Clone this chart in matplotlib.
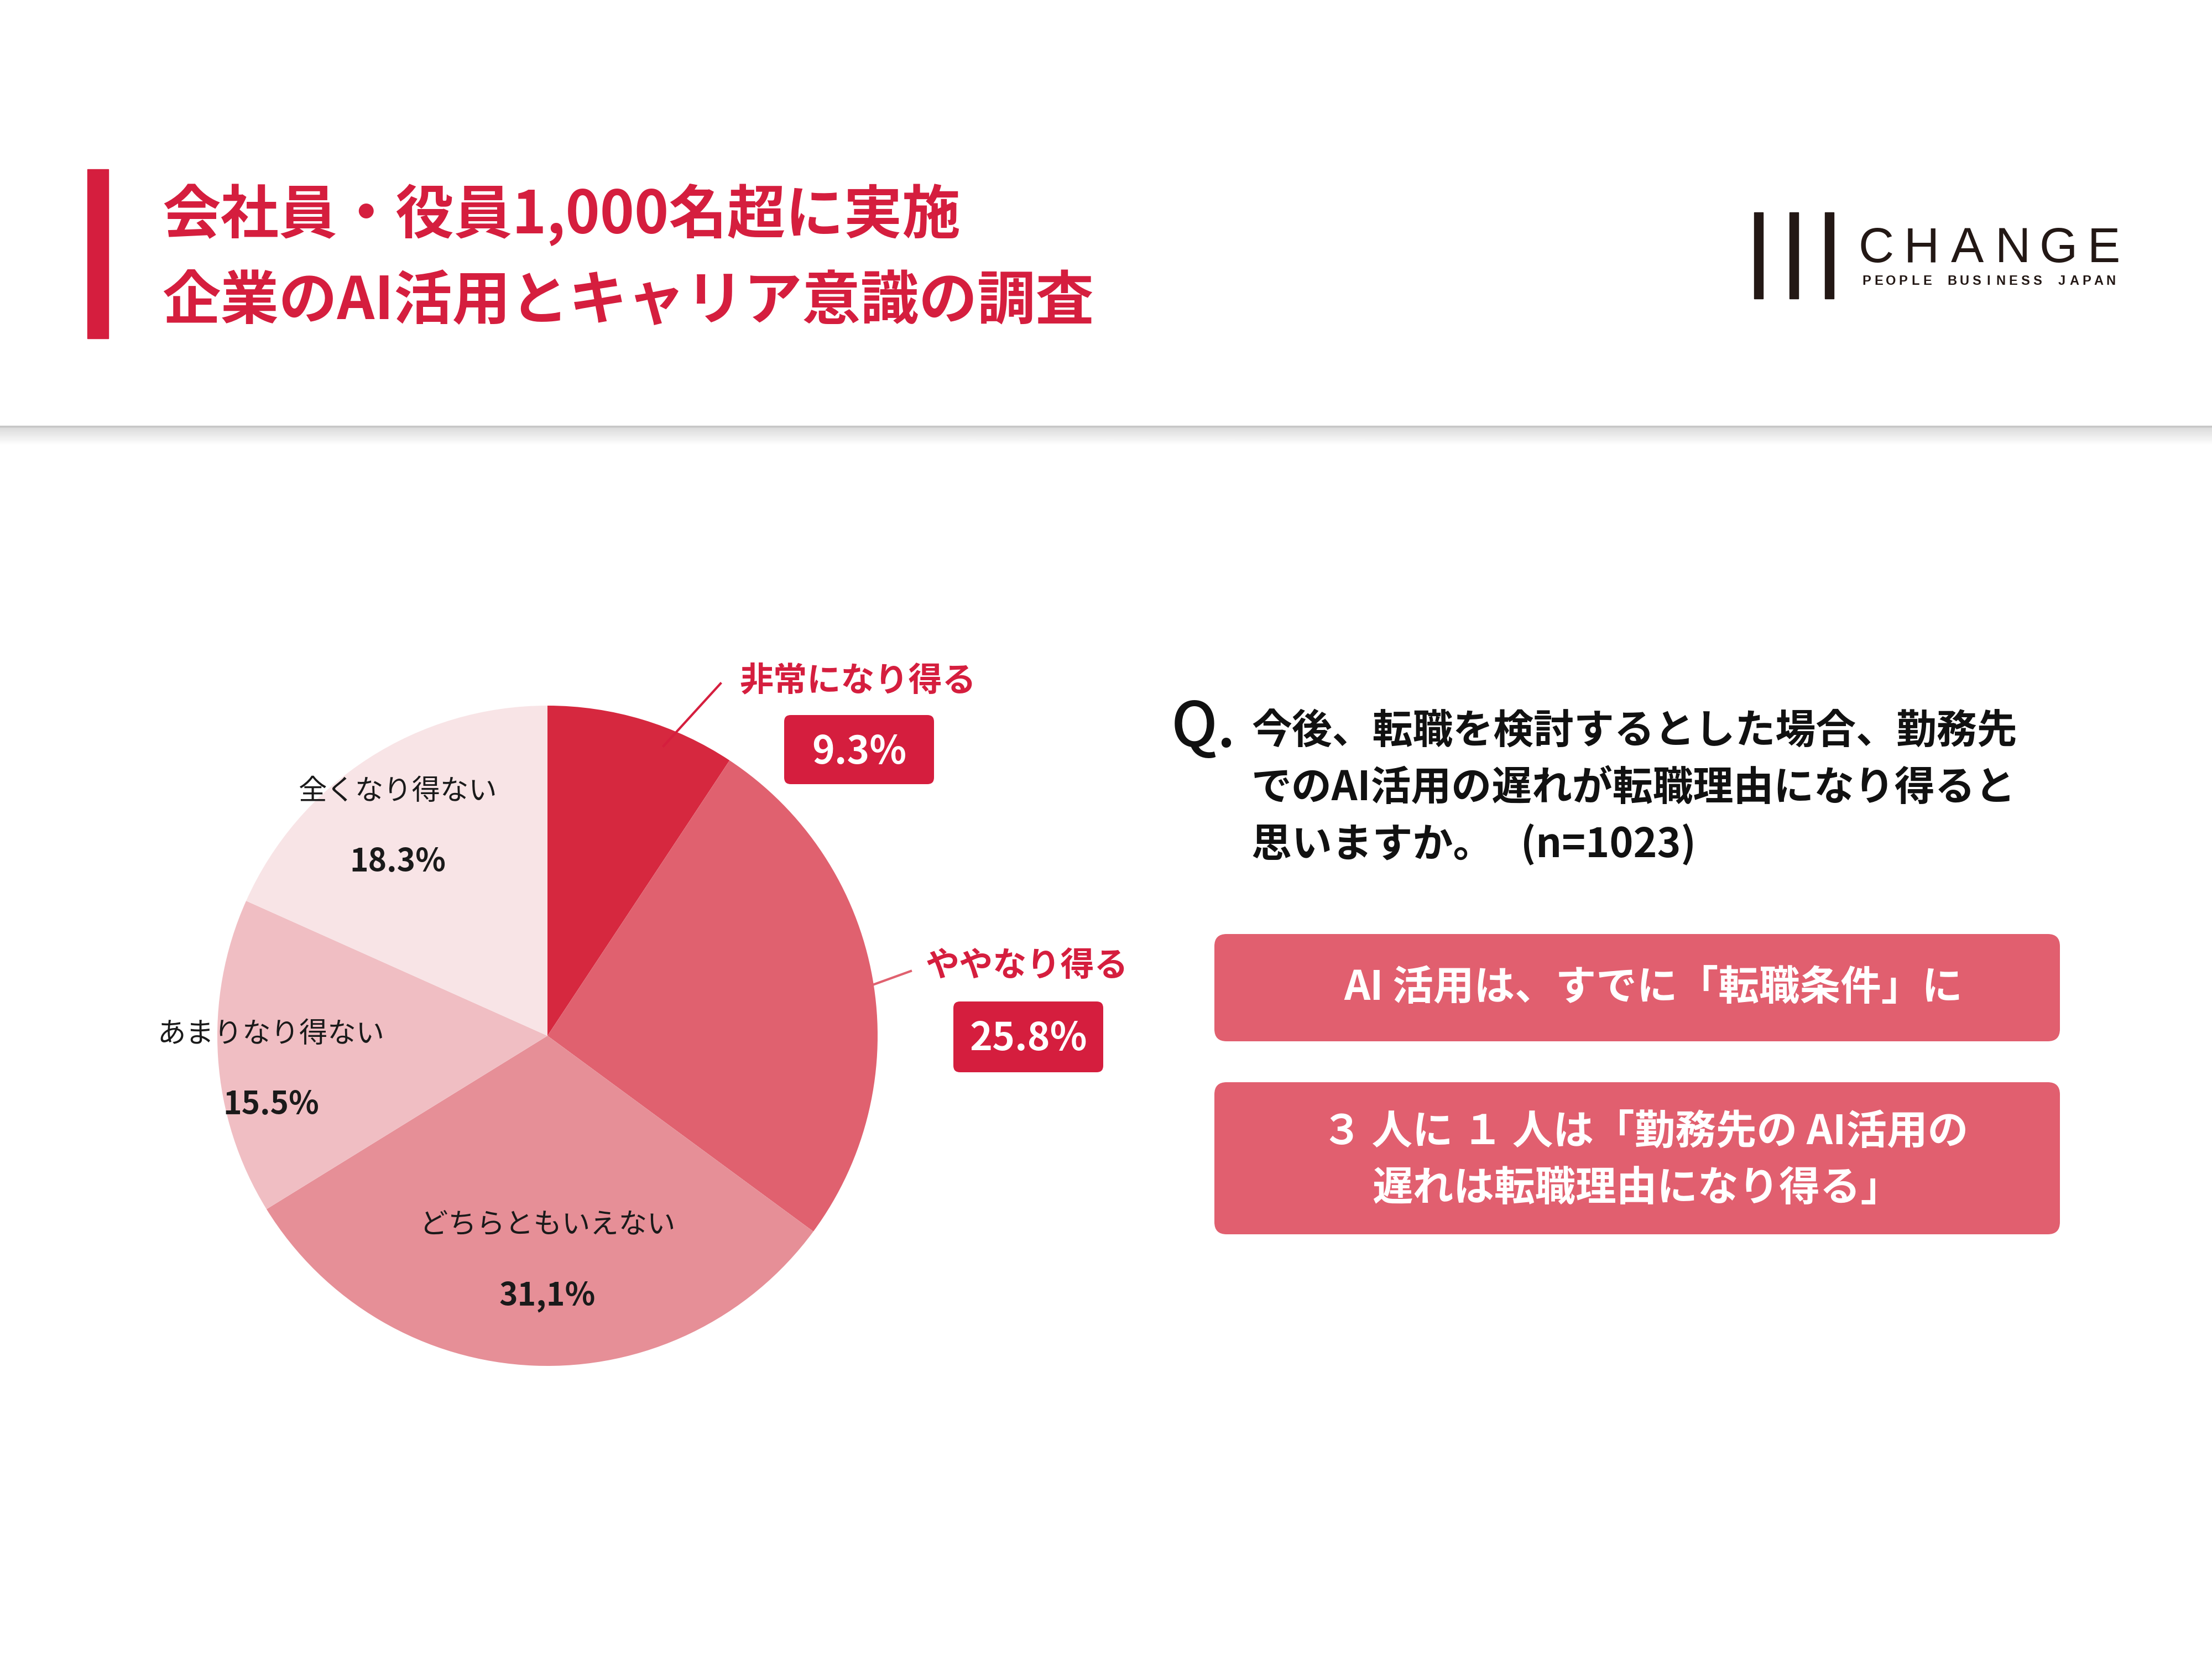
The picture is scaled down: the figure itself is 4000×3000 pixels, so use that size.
import numpy as np
import matplotlib
matplotlib.use("Agg")
import matplotlib.pyplot as plt
from matplotlib.patches import Rectangle, FancyBboxPatch

plt.rcParams["font.family"] = ["Noto Sans CJK JP", "DejaVu Sans"]

# data
labels = ["非常になり得る", "ややなり得る", "どちらともいえない", "あまりなり得ない", "全くなり得ない"]
values = [9.3, 25.8, 31.1, 15.5, 18.3]
value_texts = ["9.3%", "25.8%", "31,1%", "15.5%", "18.3%"]
colors = ["#D6283F", "#E0616F", "#E68F97", "#F0BEC3", "#F8E4E6"]

title_lines = ["会社員・役員1,000名超に実施", "企業のAI活用とキャリア意識の調査"]
question_lines = ["今後、転職を検討するとした場合、勤務先",
                  "でのAI活用の遅れが転職理由になり得ると",
                  "思いますか。   (n=1023)"]
box1_text = "AI 活用は、すでに「転職条件」に"
box2_lines = ["３ 人に １ 人は「勤務先の AI活用の", "遅れは転職理由になり得る」"]

RED = "#D51E3E"
BOX = "#E15F6F"
INK = "#231815"

W, H = 4000, 3000
fig = plt.figure(figsize=(40, 30), dpi=100)
fig.patch.set_facecolor("white")

# pie
cx, cy, r = 990, 1873, 597
ax_pie = fig.add_axes([(cx - r) / W, 1 - (cy + r) / H, 2 * r / W, 2 * r / H])
wedges, _ = ax_pie.pie(values, colors=colors, startangle=90, counterclock=False,
                       radius=1, wedgeprops=dict(linewidth=0))
ax_pie.set_xlim(-1, 1)
ax_pie.set_ylim(-1, 1)
ax_pie.set_aspect("equal")
ax_pie.axis("off")

# overlay in pixel coords
ax = fig.add_axes([0, 0, 1, 1], zorder=2)
ax.axis("off")

# header
ax.add_patch(Rectangle((158, 306), 38, 306, color=RED))
for i, line in enumerate(title_lines):
    ax.text(293, 388 + i * 158, line, ha="left", va="center", fontsize=76,
            fontweight="bold", color=RED)

# logo
for x in [3172, 3236, 3300]:
    ax.add_patch(Rectangle((x, 384), 16, 156, color=INK))
for i, ch in enumerate("CHANGE"):
    ax.text(3393 + i * 82.2, 474, ch, ha="center", va="baseline", fontsize=64,
            family="Liberation Sans", color=INK)
for i, ch in enumerate("PEOPLE BUSINESS JAPAN"):
    ax.text(3375 + i * 22.1, 515, ch, ha="center", va="baseline", fontsize=17,
            family="Liberation Sans", fontweight="bold", color=INK)

# separator with soft shadow
grad = np.linspace(0.86, 1.0, 40)[:, None]
ax.imshow(grad, cmap="gray", vmin=0, vmax=1, extent=(0, W, 805, 773),
          aspect="auto", interpolation="bilinear")
ax.plot([0, W], [771, 771], color="#C6C6C6", lw=2.5)

# inner pie labels (label block centres)
inner_pos = {2: (990, 2278), 3: (490, 1932), 4: (719, 1493)}
for i, (px, py) in inner_pos.items():
    ax.text(px, py - 62, labels[i], ha="center", va="center", fontsize=37, color="#1A1A1A")
    ax.text(px, py + 66, value_texts[i], ha="center", va="center", fontsize=41,
            fontweight="bold", color="#1A1A1A")

# outer labels
ax.plot([1200, 1303], [1349, 1236], color=RED, lw=3)
ax.text(1551, 1232, labels[0], ha="center", va="center", fontsize=44, fontweight="bold", color=RED)
ax.add_patch(FancyBboxPatch((1418, 1293), 271, 125, boxstyle="round,pad=0,rounding_size=12",
                            fc=RED, ec="none"))
ax.text(1554, 1361, value_texts[0], ha="center", va="center", fontsize=50,
        fontweight="bold", color="white")

ax.plot([1578, 1647], [1781, 1756], color="#E0616F", lw=3)
ax.text(1857, 1747, labels[1], ha="center", va="center", fontsize=44, fontweight="bold", color=RED)
ax.add_patch(FancyBboxPatch((1724, 1811), 271, 128, boxstyle="round,pad=0,rounding_size=12",
                            fc=RED, ec="none"))
ax.text(1860, 1879, value_texts[1], ha="center", va="center", fontsize=50,
        fontweight="bold", color="white")

# question
ax.text(2118, 1318, "Q.", ha="left", va="center", fontsize=80, fontweight="medium", color="#111111")
for i, line in enumerate(question_lines):
    ax.text(2263, 1323 + i * 102.5, line, ha="left", va="center", fontsize=52.5,
            fontweight="bold", color="#111111")

# highlight boxes
ax.add_patch(FancyBboxPatch((2196, 1689), 1529, 194, boxstyle="round,pad=0,rounding_size=22",
                            fc=BOX, ec="none"))
ax.text(2990, 1788, box1_text, ha="center", va="center", fontsize=53,
        fontweight="bold", color="white")
ax.add_patch(FancyBboxPatch((2196, 1957), 1529, 275, boxstyle="round,pad=0,rounding_size=22",
                            fc=BOX, ec="none"))
ax.text(2975, 2048, box2_lines[0], ha="center", va="center", fontsize=53,
        fontweight="bold", color="white")
ax.text(2960, 2150, box2_lines[1], ha="center", va="center", fontsize=53,
        fontweight="bold", color="white")

ax.set_xlim(0, W)
ax.set_ylim(H, 0)

fig.savefig("out.png", dpi=100)
